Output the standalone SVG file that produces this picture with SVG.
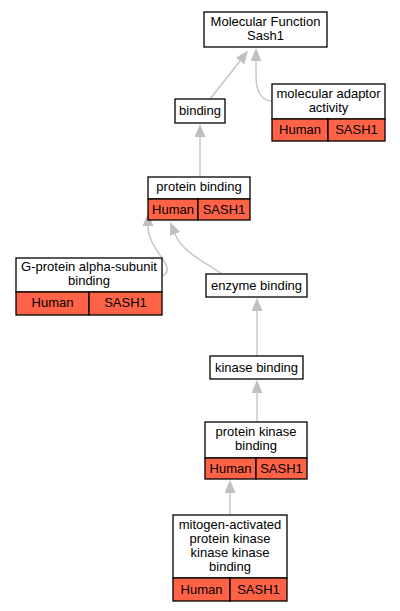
<svg xmlns="http://www.w3.org/2000/svg" width="400" height="611" viewBox="0 0 400 611">
<style>
text{font-family:"Liberation Sans",Arial,sans-serif;font-size:13px;text-anchor:middle;fill:#000}
.w{fill:#fff;stroke:#000;stroke-width:1.3}
.r{fill:#ff6347;stroke:#000;stroke-width:1.3}
.e{fill:none;stroke:#c0c0c0;stroke-width:1.3}
</style>
<defs>
<marker id="a" markerWidth="13" markerHeight="11" refX="0" refY="5.5" orient="auto" markerUnits="userSpaceOnUse" viewBox="0 0 13 11">
<path d="M0,0 L13,5.5 L0,11 z" fill="#c0c0c0"/>
</marker>
</defs>
<rect width="400" height="611" fill="#fff"/>
<g id="edges">
<path class="e" d="M210,99 L240,61" marker-end="url(#a)"/>
<path class="e" d="M272,101 C262,101 256,92 256,76 L256,61" marker-end="url(#a)"/>
<path class="e" d="M200,177 L200,137" marker-end="url(#a)"/>
<path class="e" d="M162,276 C170,273 168,266 162,258 C155,248 148,238 148,226" marker-end="url(#a)"/>
<path class="e" d="M222,274 C205,262 182,252 175,234" marker-end="url(#a)"/>
<path class="e" d="M257,356 L257,311" marker-end="url(#a)"/>
<path class="e" d="M257,422 L257,393" marker-end="url(#a)"/>
<path class="e" d="M230,515 L230,493" marker-end="url(#a)"/>
</g>
<g id="mf">
<rect class="w" x="204" y="12" width="123" height="35"/>
<text x="265.5" y="26">Molecular Function</text>
<text x="265.5" y="40">Sash1</text>
</g>
<g id="binding">
<rect class="w" x="175" y="99" width="50" height="24"/>
<text x="200" y="115">binding</text>
</g>
<g id="adaptor">
<rect class="w" x="272" y="84" width="113" height="35"/>
<text x="328.5" y="98">molecular adaptor</text>
<text x="328.5" y="112">activity</text>
<rect class="r" x="272" y="119" width="56" height="22"/>
<rect class="r" x="328" y="119" width="57" height="22"/>
<text x="300" y="134">Human</text>
<text x="356.5" y="134">SASH1</text>
</g>
<g id="protein-binding">
<rect class="w" x="148" y="177" width="102" height="22"/>
<text x="199" y="191">protein binding</text>
<rect class="r" x="148" y="199" width="50" height="21"/>
<rect class="r" x="198" y="199" width="52" height="21"/>
<text x="173" y="214">Human</text>
<text x="224" y="214">SASH1</text>
</g>
<g id="gprotein">
<rect class="w" x="16" y="258" width="146" height="34"/>
<text x="89" y="271">G-protein alpha-subunit</text>
<text x="89" y="285">binding</text>
<rect class="r" x="16" y="292" width="73" height="23"/>
<rect class="r" x="89" y="292" width="73" height="23"/>
<text x="52.5" y="307">Human</text>
<text x="125.5" y="307">SASH1</text>
</g>
<g id="enzyme">
<rect class="w" x="206" y="274" width="101" height="23"/>
<text x="256.5" y="290">enzyme binding</text>
</g>
<g id="kinase">
<rect class="w" x="210" y="356" width="93" height="23"/>
<text x="256.5" y="372">kinase binding</text>
</g>
<g id="pkb">
<rect class="w" x="205" y="422" width="102" height="36"/>
<text x="256" y="436">protein kinase</text>
<text x="256" y="450">binding</text>
<rect class="r" x="205" y="458" width="51" height="21"/>
<rect class="r" x="256" y="458" width="51" height="21"/>
<text x="230.5" y="473">Human</text>
<text x="281.5" y="473">SASH1</text>
</g>
<g id="mapkkk">
<rect class="w" x="173" y="515" width="114" height="63"/>
<text x="230" y="529">mitogen-activated</text>
<text x="230" y="543">protein kinase</text>
<text x="230" y="557">kinase kinase</text>
<text x="230" y="571">binding</text>
<rect class="r" x="173" y="578" width="57" height="23"/>
<rect class="r" x="230" y="578" width="57" height="23"/>
<text x="201.5" y="594">Human</text>
<text x="258.5" y="594">SASH1</text>
</g>
</svg>
